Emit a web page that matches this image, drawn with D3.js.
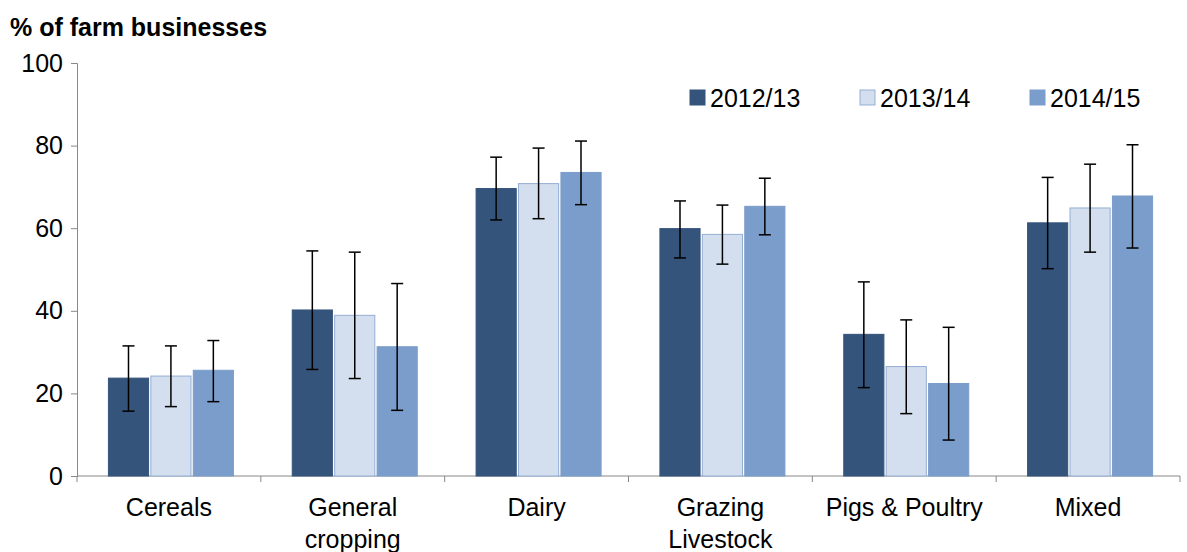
<!DOCTYPE html>
<html>
<head>
<meta charset="utf-8">
<script src="https://cdn.jsdelivr.net/npm/d3@7/dist/d3.min.js"></script>
<style>
  body { margin: 0; background: #fff; }
  text { font-family: Arial, "Liberation Sans", sans-serif; fill: #000; }
</style>
</head>
<body>
<svg id="chart" width="1187" height="552"></svg>
<script>
var categories = [["Cereals"], ["General", "cropping"], ["Dairy"], ["Grazing", "Livestock"], ["Pigs & Poultry"], ["Mixed"]];
var series = ["2012/13", "2013/14", "2014/15"];
var values = [
  [23.7, 40.2, 69.6, 59.9, 34.3, 61.3],
  [24.2, 38.9, 70.8, 58.5, 26.5, 64.9],
  [25.6, 31.3, 73.5, 65.3, 22.4, 67.8]
];
var errLow = [
  [15.7, 25.8, 62.0, 52.8, 21.4, 50.2],
  [16.8, 23.6, 62.3, 51.3, 15.1, 54.2],
  [18.0, 15.9, 65.7, 58.4, 8.7, 55.2]
];
var errHigh = [
  [31.5, 54.5, 77.2, 66.6, 47.0, 72.3],
  [31.5, 54.2, 79.4, 65.6, 37.8, 75.5],
  [32.8, 46.6, 81.1, 72.1, 36.0, 80.2]
];
var yTicks = [0, 20, 40, 60, 80, 100];
var fills = ["#34547C", "#D3DEEE", "#7B9DCB"];
var strokes = ["#34547C", "#95AED3", "#7B9DCB"];

var svg = d3.select("#chart");
var mLeft = 77, mRight = 1180, mTop = 63, mBottom = 476;

var x = d3.scaleBand().domain(d3.range(categories.length)).range([mLeft, mRight]);
var xs = d3.scaleBand().domain(d3.range(series.length)).range([0, 126]).paddingInner(0.03);
var y = d3.scaleLinear().domain([0, 100]).range([mBottom, mTop]);

// y axis
var yAxis = svg.append("g").attr("transform", "translate(" + mLeft + ",0)")
  .call(d3.axisLeft(y).tickValues(yTicks).tickSize(6).tickPadding(8));
yAxis.selectAll("text").style("font-size", "25px");
yAxis.selectAll("line, path").attr("stroke", "#888");

// x axis
var xAxisG = svg.append("g");
xAxisG.append("line").attr("x1", mLeft).attr("x2", mRight).attr("y1", mBottom).attr("y2", mBottom).attr("stroke", "#888");
xAxisG.selectAll("line.tk").data(d3.range(categories.length + 1)).enter().append("line")
  .attr("x1", function (d) { return mLeft + d * x.bandwidth(); })
  .attr("x2", function (d) { return mLeft + d * x.bandwidth(); })
  .attr("y1", mBottom).attr("y2", mBottom + 6).attr("stroke", "#888");
var lbl = xAxisG.selectAll("text.cat").data(categories).enter().append("text")
  .attr("text-anchor", "middle").style("font-size", "25px")
  .attr("x", function (d, i) { return x(i) + x.bandwidth() / 2; })
  .attr("y", 516);
lbl.selectAll("tspan").data(function (d) { return d; }).enter().append("tspan")
  .attr("x", function () { return d3.select(this.parentNode).attr("x"); })
  .attr("dy", function (d, i) { return i ? 32 : 0; })
  .text(function (d) { return d; });

// bars
series.forEach(function (s, si) {
  var g = svg.append("g");
  var bx = function (i) { return x(i) + (x.bandwidth() - 126) / 2 + xs(si) + 2; };
  g.selectAll("rect").data(values[si]).enter().append("rect")
    .attr("x", function (d, i) { return bx(i) + 0.5; })
    .attr("width", xs.bandwidth() - 1)
    .attr("y", function (d) { return y(d); })
    .attr("height", function (d) { return mBottom - y(d); })
    .attr("fill", fills[si]).attr("stroke", strokes[si]);
  var cx = function (i) { return bx(i) + xs.bandwidth() / 2; };
  var eg = g.selectAll("g.err").data(values[si]).enter().append("g").attr("stroke", "#000").attr("stroke-width", 1.5);
  eg.append("line").attr("x1", function (d, i) { return cx(i); }).attr("x2", function (d, i) { return cx(i); })
    .attr("y1", function (d, i) { return y(errLow[si][i]); }).attr("y2", function (d, i) { return y(errHigh[si][i]); });
  [errLow, errHigh].forEach(function (arr) {
    eg.append("line").attr("x1", function (d, i) { return cx(i) - 6; }).attr("x2", function (d, i) { return cx(i) + 6; })
      .attr("y1", function (d, i) { return y(arr[si][i]); }).attr("y2", function (d, i) { return y(arr[si][i]); });
  });
});

// legend
var lg = svg.selectAll("g.leg").data(series).enter().append("g")
  .attr("transform", function (d, i) { return "translate(" + (690 + i * 170) + ",90)"; });
lg.append("rect").attr("width", 15).attr("height", 15)
  .attr("fill", function (d, i) { return fills[i]; }).attr("stroke", function (d, i) { return strokes[i]; });
lg.append("text").attr("x", 20).attr("y", 17).style("font-size", "25px").text(function (d) { return d; });

// title
svg.append("text").attr("x", 10).attr("y", 36).style("font-size", "25px").style("font-weight", "bold")
  .text("% of farm businesses");
</script>
</body>
</html>
